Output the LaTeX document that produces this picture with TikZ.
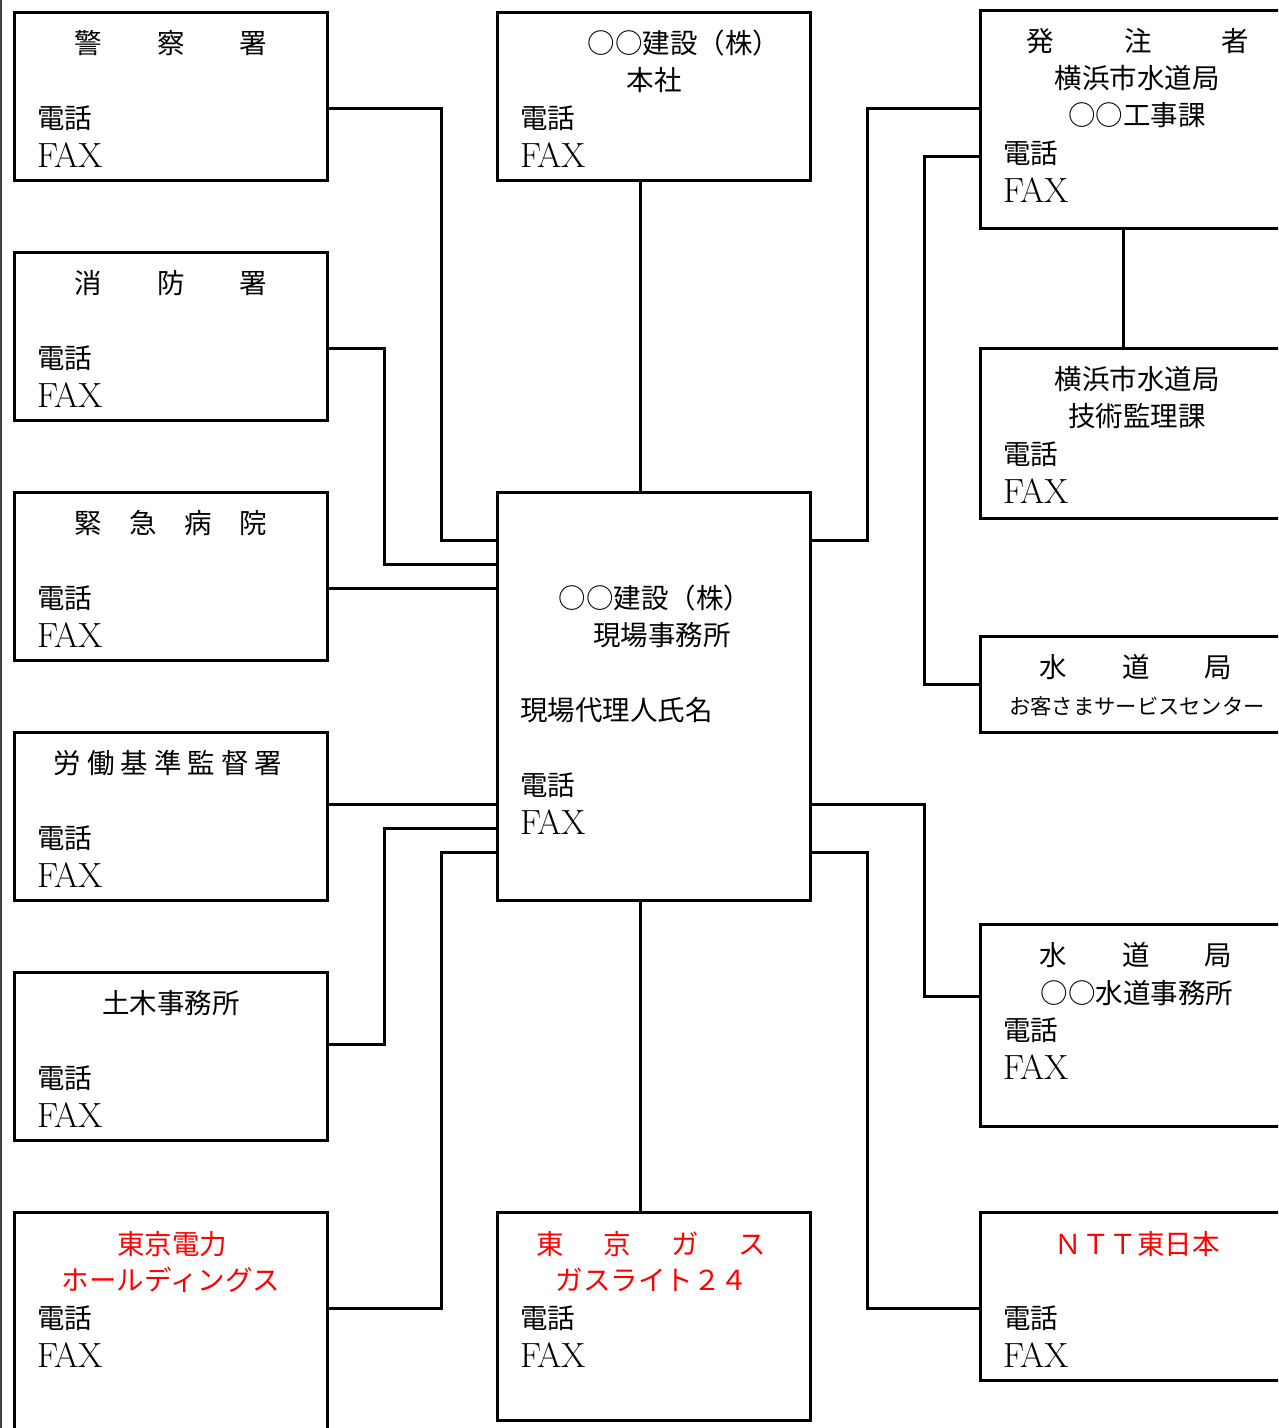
\documentclass[tikz,border=0pt]{standalone}
\usepackage{fontspec}
\newfontfamily\jp{Noto Sans CJK JP}
\begin{document}
\begin{tikzpicture}[x=1pt,y=-1pt,
  box/.style={draw, line width=3pt, anchor=north west, inner sep=0pt, outer sep=0pt},
  conn/.style={line width=3pt, line join=miter},
  jt/.style={font={\jp\fontsize{27.5}{30}\selectfont}, inner sep=0pt},
  jl/.style={jt, anchor=west},
  small/.style={font={\jp\fontsize{21.3}{24}\selectfont}, inner sep=0pt},
  fax/.style={font={\rmfamily\fontsize{35}{38}\selectfont}, inner sep=0pt, anchor=west},
  redt/.style={jt, text=red}]
\useasboundingbox (0,0) rectangle (1278,1428);
\clip (0,0) rectangle (1278,1428);
\fill[white] (0,0) rectangle (1278,1428);
\draw[line width=1.5pt, black!75] (1,0) -- (1,1428);

% left column
\node[box, minimum width=313pt, minimum height=168pt] (police) at (14,12) {};
\node[box, minimum width=313pt, minimum height=168pt] (fire) at (14,252) {};
\node[box, minimum width=313pt, minimum height=168pt] (hosp) at (14,492) {};
\node[box, minimum width=313pt, minimum height=168pt] (labor) at (14,732) {};
\node[box, minimum width=313pt, minimum height=168pt] (civil) at (14,972) {};
\node[box, minimum width=313pt, minimum height=260pt] (tepco) at (14,1212) {};
% center column
\node[box, minimum width=313pt, minimum height=168pt] (honsha) at (497,12) {};
\node[box, minimum width=313pt, minimum height=408pt] (site) at (497,492) {};
\node[box, minimum width=313pt, minimum height=208pt] (gas) at (497,1212) {};
% right column
\node[box, minimum width=340pt, minimum height=218pt] (client) at (980,10) {};
\node[box, minimum width=340pt, minimum height=170pt] (tech) at (980,348) {};
\node[box, minimum width=340pt, minimum height=96pt] (cust) at (980,636) {};
\node[box, minimum width=340pt, minimum height=202pt] (wateroff) at (980,924) {};
\node[box, minimum width=340pt, minimum height=168pt] (ntt) at (980,1212) {};

% connectors
\draw[conn] (police.east |- 0,108) -- (441,108) |- (site.west |- 0,540);
\draw[conn] (fire.east |- 0,348) -- (384,348) |- (site.west |- 0,564);
\draw[conn] (hosp.east |- 0,588) -- (site.west |- 0,588);
\draw[conn] (labor.east |- 0,804) -- (site.west |- 0,804);
\draw[conn] (civil.east |- 0,1044) -- (384,1044) |- (site.west |- 0,828);
\draw[conn] (tepco.east |- 0,1308) -- (441,1308) |- (site.west |- 0,852);
\draw[conn] (honsha.south -| 640,0) -- (site.north -| 640,0);
\draw[conn] (site.south -| 640,0) -- (gas.north -| 640,0);
\draw[conn] (site.east |- 0,540) -- (867,540) |- (client.west |- 0,108);
\draw[conn] (client.west |- 0,156) -- (924,156) |- (cust.west |- 0,684);
\draw[conn] (client.south -| 1123,0) -- (tech.north -| 1123,0);
\draw[conn] (site.east |- 0,804) -- (924,804) |- (wateroff.west |- 0,996);
\draw[conn] (site.east |- 0,852) -- (867,852) |- (ntt.west |- 0,1308);

% texts left column
\node[jt] (t1) at (171,43) {警　　察　　署};
\node[jl] (t1a) at (37,118) {電話};
\node[fax] (t1b) at (37,155) {FAX};
\node[jt] (t2) at (171,283) {消　　防　　署};
\node[jl] (t2a) at (37,358) {電話};
\node[fax] (t2b) at (37,395) {FAX};
\node[jt] (t3) at (171,523) {緊　急　病　院};
\node[jl] (t3a) at (37,598) {電話};
\node[fax] (t3b) at (37,635) {FAX};
\node[jt] (t4) at (168,763) {労\kern6pt 働\kern6pt 基\kern6pt 準\kern6pt 監\kern6pt 督\kern6pt 署};
\node[jl] (t4a) at (37,838) {電話};
\node[fax] (t4b) at (37,875) {FAX};
\node[jt] (t5) at (171,1003) {土木事務所};
\node[jl] (t5a) at (37,1078) {電話};
\node[fax] (t5b) at (37,1115) {FAX};
\node[redt] (t6) at (172,1244) {東京電力};
\node[redt] (t6c) at (171,1280) {ホールディングス};
\node[jl] (t6a) at (37,1318) {電話};
\node[fax] (t6b) at (37,1355) {FAX};

% texts center column
\node[jt] (c1) at (684,43) {○○建設（株）};
\node[jt] (c1c) at (654,80) {本社};
\node[jl] (c1a) at (520,118) {電話};
\node[fax] (c1b) at (520,155) {FAX};
\node[jt] (c2) at (655,598) {○○建設（株）};
\node[jt] (c2c) at (662,635) {現場事務所};
\node[jl] (c2d) at (520,710) {現場代理人氏名};
\node[jl] (c2a) at (520,785) {電話};
\node[fax] (c2b) at (520,822) {FAX};
\node[redt] (c3) at (651,1244) {東\hspace{40pt}京\hspace{40pt}ガ\hspace{40pt}ス};
\node[redt] (c3c) at (652,1280) {ガスライト２４};
\node[jl] (c3a) at (520,1318) {電話};
\node[fax] (c3b) at (520,1355) {FAX};

% texts right column
\node[jt] (r1) at (1138,41) {発\hspace{70pt}注\hspace{70pt}者};
\node[jt] (r1c) at (1137,78) {横浜市水道局};
\node[jt] (r1d) at (1137,115) {○○工事課};
\node[jl] (r1a) at (1003,153) {電話};
\node[fax] (r1b) at (1003,190) {FAX};
\node[jt] (r2) at (1137,379) {横浜市水道局};
\node[jt] (r2c) at (1137,416) {技術監理課};
\node[jl] (r2a) at (1003,454) {電話};
\node[fax] (r2b) at (1003,491) {FAX};
\node[jt] (r3) at (1136,667) {水　　道　　局};
\node[small] (r3c) at (1137,706) {お客さまサービスセンター};
\node[jt] (r4) at (1136,955) {水　　道　　局};
\node[jt] (r4c) at (1137,993) {○○水道事務所};
\node[jl] (r4a) at (1003,1030) {電話};
\node[fax] (r4b) at (1003,1067) {FAX};
\node[redt] (r5) at (1137,1244) {ＮＴＴ東日本};
\node[jl] (r5a) at (1003,1318) {電話};
\node[fax] (r5b) at (1003,1355) {FAX};
\end{tikzpicture}
\end{document}
